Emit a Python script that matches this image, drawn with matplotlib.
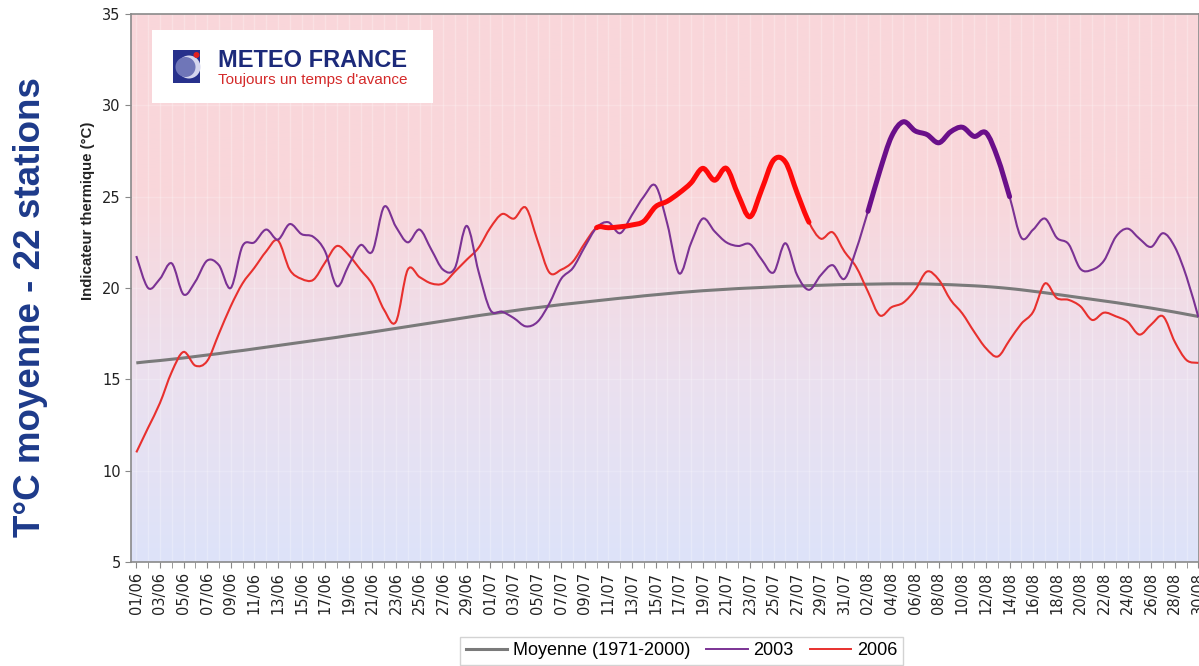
import numpy as np
import pandas as pd
import matplotlib
matplotlib.use("Agg")
import matplotlib.pyplot as plt
from matplotlib.path import Path
from matplotlib.patches import PathPatch, Rectangle, Circle
from matplotlib.colors import LinearSegmentedColormap
from matplotlib.lines import Line2D

# jours du 01/06 au 30/08
jours = pd.date_range("2003-06-01", "2003-08-30").strftime("%d/%m").tolist()

moyenne = [15.90, 15.97, 16.03, 16.10, 16.17, 16.25, 16.33, 16.41, 16.50, 16.58,
           16.67, 16.76, 16.85, 16.94, 17.03, 17.12, 17.21, 17.30, 17.40, 17.49,
           17.59, 17.69, 17.79, 17.89, 17.99, 18.09, 18.19, 18.29, 18.39, 18.49,
           18.58, 18.67, 18.76, 18.85, 18.93, 19.01, 19.09, 19.16, 19.23, 19.30,
           19.37, 19.44, 19.50, 19.57, 19.63, 19.69, 19.75, 19.80, 19.85, 19.89,
           19.93, 19.97, 20.00, 20.03, 20.06, 20.09, 20.11, 20.13, 20.15, 20.17,
           20.19, 20.20, 20.21, 20.22, 20.23, 20.23, 20.23, 20.22, 20.20, 20.18,
           20.15, 20.12, 20.08, 20.03, 19.97, 19.90, 19.82, 19.74, 19.65, 19.56,
           19.47, 19.38, 19.29, 19.20, 19.10, 19.00, 18.90, 18.79, 18.68, 18.56,
           18.44]

t2003 = [21.75, 20.0, 20.5, 21.35, 19.65, 20.35, 21.5, 21.25, 20.0, 22.3,
         22.5, 23.2, 22.65, 23.5, 22.95, 22.8, 22.0, 20.1, 21.25, 22.35,
         22.0, 24.45, 23.35, 22.5, 23.2, 22.1, 21.0, 21.1, 23.4, 20.9,
         18.8, 18.7, 18.35, 17.9, 18.15, 19.15, 20.5, 21.1, 22.25, 23.3,
         23.6, 23.0, 24.0, 25.0, 25.6, 23.5, 20.8, 22.45, 23.8, 23.1,
         22.5, 22.3, 22.4, 21.55, 20.85, 22.45, 20.7, 19.9, 20.7, 21.25,
         20.5, 22.1, 24.2, 26.4, 28.3, 29.1, 28.6, 28.4, 27.95, 28.55,
         28.8, 28.3, 28.5, 27.1, 25.0, 22.75, 23.2, 23.8, 22.75, 22.4,
         21.05, 21.0, 21.5, 22.8, 23.25, 22.7, 22.25, 23.0, 22.25, 20.6,
         18.4]

t2006 = [11.0, 12.35, 13.7, 15.4, 16.5, 15.75, 16.0, 17.5, 19.0, 20.25,
         21.1, 22.0, 22.6, 21.0, 20.5, 20.45, 21.4, 22.3, 21.8, 21.0,
         20.2, 18.8, 18.15, 21.0, 20.6, 20.25, 20.25, 20.9, 21.55, 22.2,
         23.3, 24.05, 23.8, 24.4, 22.6, 20.85, 21.0, 21.45, 22.45, 23.3,
         23.3, 23.35, 23.45, 23.65, 24.45, 24.75, 25.2, 25.75, 26.55, 25.9,
         26.55, 25.1, 23.9, 25.4, 27.0, 26.9, 25.2, 23.6, 22.7, 23.05,
         22.0, 21.15, 19.8, 18.5, 18.95, 19.2, 19.9, 20.9, 20.45, 19.35,
         18.6, 17.6, 16.7, 16.25, 17.15, 18.05, 18.7, 20.25, 19.45, 19.35,
         19.0, 18.25, 18.65, 18.45, 18.15, 17.45, 18.0, 18.45, 17.05, 16.05,
         15.9]

# periodes de canicule (indices de jours)
canicule_2003 = (62, 74)
canicule_2006 = (39, 57)


def courbe_lisse(xs, ys, i0=0, i1=None):
    P = np.column_stack([xs, ys]).astype(float)
    n = len(P)
    if i1 is None:
        i1 = n - 1
    verts = [P[i0]]
    codes = [Path.MOVETO]
    for i in range(i0, i1):
        p0 = P[max(i - 1, 0)]
        p1 = P[i]
        p2 = P[i + 1]
        p3 = P[min(i + 2, n - 1)]
        c1 = p1 + (p2 - p0) / 6.0
        c2 = p2 - (p3 - p1) / 6.0
        verts += [c1, c2, p2]
        codes += [Path.CURVE4] * 3
    return Path(verts, codes)


W, H = 1199, 666
fig = plt.figure(figsize=(W / 100, H / 100), dpi=100)
fig.patch.set_facecolor("white")

ax = fig.add_axes([131 / W, 1 - 562 / H, 1 - 131 / W, (562 - 14) / H])
x = np.arange(len(jours))
x0, x1 = -0.45, 90.05

grad = np.linspace(0, 1, 256).reshape(-1, 1)
cmap = LinearSegmentedColormap.from_list("fond", ["#dde3f9", "#ebe0ef", "#f9d7db", "#f9d6da"])
ax.imshow(grad, extent=[x0, x1, 5, 35], origin="lower", aspect="auto", cmap=cmap, zorder=0)

for d in x:
    ax.axvline(d, color="white", alpha=0.25, lw=1, zorder=1)
for v in range(10, 35, 5):
    ax.axhline(v, color="white", alpha=0.2, lw=1, zorder=1)

ax.add_patch(PathPatch(courbe_lisse(x, moyenne), fill=False, edgecolor="#7a7a7a", lw=2.2, zorder=3))
ax.add_patch(PathPatch(courbe_lisse(x, t2006), fill=False, edgecolor="#e8302e", lw=1.5, zorder=4))
ax.add_patch(PathPatch(courbe_lisse(x, t2006, *canicule_2006), fill=False, edgecolor="#ff0a0a",
                       lw=3.6, capstyle="round", joinstyle="round", zorder=5))
ax.add_patch(PathPatch(courbe_lisse(x, t2003), fill=False, edgecolor="#7b3294", lw=1.5, zorder=4))
ax.add_patch(PathPatch(courbe_lisse(x, t2003, *canicule_2003), fill=False, edgecolor="#6a0f8a",
                       lw=3.6, capstyle="round", joinstyle="round", zorder=5))

ax.set_xlim(x0, x1)
ax.set_ylim(5, 35)
ax.set_yticks(range(5, 36, 5))
ax.set_xticks(x[::2])
ax.set_xticklabels(jours[::2], rotation=90)
ax.set_xticks(x[1::2], minor=True)
ax.tick_params(axis="both", colors="#888888", labelcolor="#222222", labelsize=10.5, length=4)
ax.tick_params(axis="x", which="minor", colors="#888888", length=4)
ax.tick_params(axis="x", pad=3)
for s in ax.spines.values():
    s.set_color("#8a8a8a")
    s.set_linewidth(1.2)

fig.text(88 / W, 1 - 211 / H, "Indicateur thermique (°C)", rotation=90, ha="center", va="center",
         fontsize=10.8, fontweight="bold", family="Liberation Sans", color="#222222")
fig.text(31 / W, 1 - 307 / H, "T°C moyenne - 22 stations", rotation=90, ha="center", va="center",
         fontsize=26.5, fontweight="bold", family="Liberation Sans", color="#1d3a8a")

# logo
lg = fig.add_axes([152 / W, 1 - 103 / H, 281 / W, 73 / H])
lg.set_xlim(0, 281)
lg.set_ylim(73, 0)
lg.axis("off")
lg.add_patch(Rectangle((0, 0), 281, 73, facecolor="white", edgecolor="none"))
lg.add_patch(Rectangle((21, 20), 27, 33, facecolor="#27318c", edgecolor="none"))
lg.add_patch(Circle((37, 37), 11.5, facecolor="#d4d6ee", edgecolor="none"))
lg.add_patch(Circle((33.5, 37), 10, facecolor="#6f76b8", edgecolor="none"))
lg.add_patch(Circle((44.5, 25), 3, facecolor="#e32020", edgecolor="none"))
lg.text(66, 37, "METEO FRANCE", fontsize=17, fontweight="bold", family="Liberation Sans",
        color="#1c2a7a", va="baseline", ha="left")
lg.text(66, 54, "Toujours un temps d'avance", fontsize=11, family="Liberation Sans",
        color="#d42a2a", va="baseline", ha="left")

handles = [Line2D([], [], color="#7a7a7a", lw=2.2),
           Line2D([], [], color="#7b3294", lw=1.4),
           Line2D([], [], color="#e8302e", lw=1.4)]
leg = fig.legend(handles, ["Moyenne (1971-2000)", "2003", "2006"], loc="upper center",
                 bbox_to_anchor=(681.5 / W, 1 - 637 / H), borderaxespad=0, ncol=3,
                 frameon=True, fancybox=False,
                 prop={"family": ["Liberation Sans Narrow", "Liberation Sans"], "size": 13},
                 handlelength=2.3, handletextpad=0.3, columnspacing=0.9, borderpad=0.3)
leg.get_frame().set_edgecolor("#c8c8c8")
leg.get_frame().set_linewidth(1.0)

fig.savefig("out.png", dpi=100)
